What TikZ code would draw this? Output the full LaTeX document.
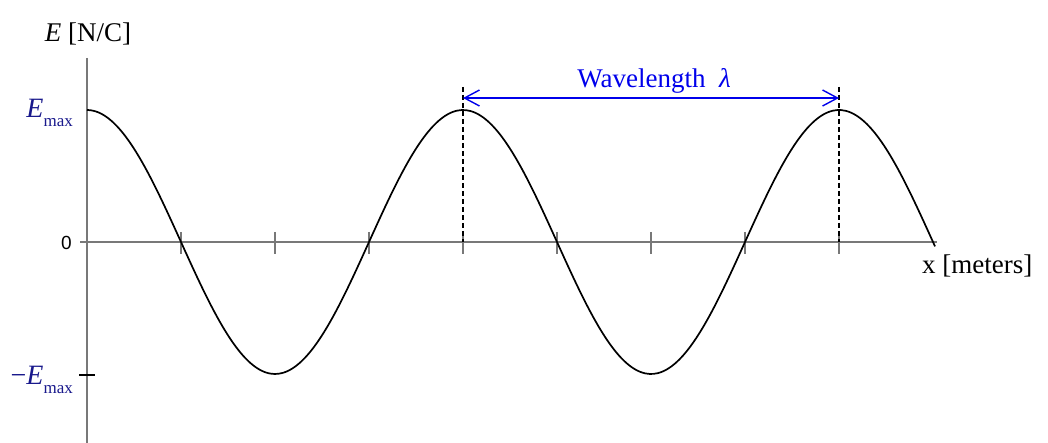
\documentclass[tikz,border=0pt]{standalone}
\usepackage{fontspec}
\setmainfont{Liberation Serif}
\newfontfamily\sansf{Liberation Sans}
\usetikzlibrary{arrows.meta}
\definecolor{axisgray}{RGB}{120,120,120}
\definecolor{labnavy}{RGB}{25,25,140}
\definecolor{wblue}{RGB}{0,0,235}
\begin{document}
\begin{tikzpicture}[x=1pt,y=-1pt,
  axisline/.style={draw=axisgray,line width=1.4pt},
  tickmark/.style={draw=axisgray,line width=1.4pt},
  curveline/.style={draw=black,line width=1.7pt,line join=round},
  guide/.style={draw=black,line width=1.2pt,dash pattern=on 5pt off 3pt},
  wavearrow/.style={draw=wblue,line width=1.4pt,{Straight Barb[length=15pt,width=16pt,line width=1.4pt]}-{Straight Barb[length=15pt,width=16pt,line width=1.4pt]}},
  lab/.style={inner sep=0pt,font=\fontsize{27}{31}\selectfont},
  emaxlab/.style={inner sep=0pt,text=labnavy,font=\fontsize{28}{32}\selectfont}]
\useasboundingbox (0,0) rectangle (1048,443);
% axes
\coordinate (ytop) at (87,58);
\coordinate (ybot) at (87,443);
\coordinate (xleft) at (80,242);
\coordinate (xright) at (937,242);
\draw[axisline] (ytop) -- (ybot);
\draw[axisline] (xleft) -- (xright);
% ticks on x axis
\foreach \t in {181,275,369,463,557,651,745,839}{
  \coordinate (tA\t) at (\t,232);
  \coordinate (tB\t) at (\t,254);
  \draw[tickmark] (tA\t) -- (tB\t);
}
% -Emax tick
\coordinate (mtA) at (79,375);
\coordinate (mtB) at (95,375);
\draw[draw=black,line width=1.4pt] (mtA) -- (mtB);
% curve
\draw[curveline] plot[domain=0:848,samples=200,smooth] ({87+\x},{242-132*cos(0.957447*\x)});
% dashed guides
\coordinate (dA1) at (463,87);
\coordinate (dB1) at (463,242);
\coordinate (dA2) at (839,87);
\coordinate (dB2) at (839,242);
\draw[guide] (dA1) -- (dB1);
\draw[guide] (dA2) -- (dB2);
% wavelength arrow
\coordinate (wA) at (463,98);
\coordinate (wB) at (839,98);
\draw[wavearrow] (wA) -- (wB);
\node[lab,text=wblue,anchor=base] (wl) at (654,88) {Wavelength\ \ \textit{λ}};
% labels
\node[lab,anchor=base] (ytitle) at (88,42) {\textit{E} [N/C]};
\node[lab,anchor=base west] (xtitle) at (922,274) {x [meters]};
\node[inner sep=0pt,anchor=base east,font=\sansf\fontsize{19}{22}\selectfont] (zero) at (72,250) {0};
\node[emaxlab,anchor=base east] (emax) at (73,118) {\textit{E}\raisebox{-9pt}{\fontsize{17}{19}\selectfont max}};
\node[emaxlab,anchor=base east] (memax) at (73,384) {−\textit{E}\raisebox{-9pt}{\fontsize{17}{19}\selectfont max}};
\end{tikzpicture}
\end{document}
